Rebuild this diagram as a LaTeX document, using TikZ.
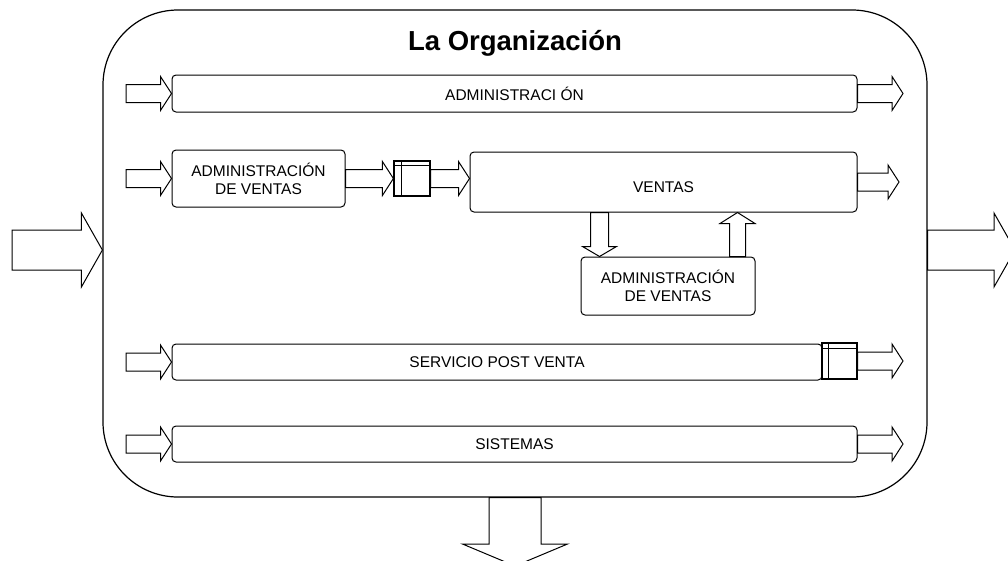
\documentclass[tikz,border=0pt]{standalone}
\usepackage{fontspec}
\setmainfont{Liberation Sans}
\usepackage{tikz}
\usetikzlibrary{calc}
\tikzstyle{every node}=[font=\fontsize{15.5}{18}\selectfont]
\tikzstyle{proc}=[draw, line width=1pt, rounded corners=4pt, inner sep=0pt, align=center]
\tikzstyle{tab}=[draw, line width=1.2pt, inner sep=0pt]
\tikzstyle{fat}=[draw, line width=1pt, fill=white, line join=miter]

\newcommand{\fatarrow}[5]{%
  \coordinate (fb) at ($(#2)!#5!(#1)$);
  \draw[fat] ($(#1)!#3!90:(#2)$) -- ($(fb)!#3!90:(#2)$) -- ($(fb)!#4!90:(#2)$) -- (#2)
    -- ($(fb)!#4!-90:(#2)$) -- ($(fb)!#3!-90:(#2)$) -- ($(#1)!#3!-90:(#2)$) -- cycle;}
\newcommand{\thinarrow}[2]{\fatarrow{#1}{#2}{9pt}{17pt}{11pt}}

\begin{document}
\begin{tikzpicture}[x=1pt, y=-1pt]
                \useasboundingbox (0,0) rectangle (1008,560);
                \node[draw, line width=1.2pt, rounded corners=75pt, minimum width=824pt, minimum height=487pt] (org) at (515,253.5) {};
                \node[font=\fontsize{27.5}{32}\selectfont\bfseries, anchor=base] (title) at (515,50.5) {La Organización};

                \node[proc, minimum width=685pt, minimum height=37pt] (adm) at (514.5,93.5) {ADMINISTRACI ÓN};
                \node[proc, minimum width=173pt, minimum height=57pt] (admv) at (258.5,178.5) {ADMINISTRACIÓN\\DE VENTAS};
                \node[tab, minimum width=36pt, minimum height=35pt] (tab1) at (412,178.5) {};
                \node[proc, minimum width=387pt, minimum height=60pt, text height=20pt, text depth=0pt] (ventas) at (663.5,182) {VENTAS};
                \node[proc, minimum width=174pt, minimum height=58pt] (subadm) at (668,286) {ADMINISTRACIÓN\\DE VENTAS};
                \node[proc, minimum width=650pt, minimum height=36pt] (post) at (497,362) {SERVICIO POST VENTA};
                \node[tab, minimum width=35pt, minimum height=36pt] (tab2) at (839.5,361) {};
                \node[proc, minimum width=685pt, minimum height=36pt] (sist) at (514.5,444) {SISTEMAS};

                \draw[line width=1.2pt] ([xshift=8pt]tab1.north west) -- ([xshift=8pt]tab1.south west);
                \draw[line width=1.2pt] ([yshift=-5pt]tab1.north west) -- ([yshift=-5pt]tab1.north east);
                \draw[line width=1.2pt] ([xshift=7pt]tab2.north west) -- ([xshift=7pt]tab2.south west);
                \draw[line width=1.2pt] ([yshift=-6pt]tab2.north west) -- ([yshift=-6pt]tab2.north east);

                \coordinate (in1) at (126,93.5);
                \coordinate (in2) at (126,178.5);
                \coordinate (in3) at (126,362);
                \coordinate (in4) at (126,444);
                \coordinate (out1) at (903,93.5);
                \coordinate (out2) at (899,182);
                \coordinate (out3) at (903,361);
                \coordinate (out4) at (903,444);
                \thinarrow{in1}{adm.west}
                \thinarrow{in2}{admv.west}
                \thinarrow{in3}{post.west}
                \thinarrow{in4}{sist.west}
                \thinarrow{adm.east}{out1}
                \thinarrow{ventas.east}{out2}
                \thinarrow{tab2.east}{out3}
                \thinarrow{sist.east}{out4}

                \coordinate (tabout) at (tab1.east -| ventas.west);
                \thinarrow{admv.east}{tab1.west}
                \thinarrow{tab1.east}{tabout}

                \coordinate (dn1) at ($(ventas.south west)+(130,0)$);
                \coordinate (dn2) at (dn1 |- subadm.north);
                \coordinate (up1) at ($(subadm.north west)+(157,0)$);
                \coordinate (up2) at (up1 |- ventas.south);
                \fatarrow{dn1}{dn2}{9pt}{17pt}{10pt}
                \fatarrow{up1}{up2}{8pt}{17.5pt}{11pt}

                \coordinate (bin1) at (12,250);
                \coordinate (bin2) at (bin1 -| org.west);
                \coordinate (bout1) at (bin1 -| org.east);
                \coordinate (bout2) at (1015,250);
                \coordinate (bdn) at (515,566);
                \fatarrow{bin1}{bin2}{20pt}{37pt}{21pt}
                \fatarrow{bout1}{bout2}{20pt}{37pt}{21pt}
                \fatarrow{org.south}{bdn}{26pt}{52.5pt}{22pt}
            \end{tikzpicture}
\end{document}
